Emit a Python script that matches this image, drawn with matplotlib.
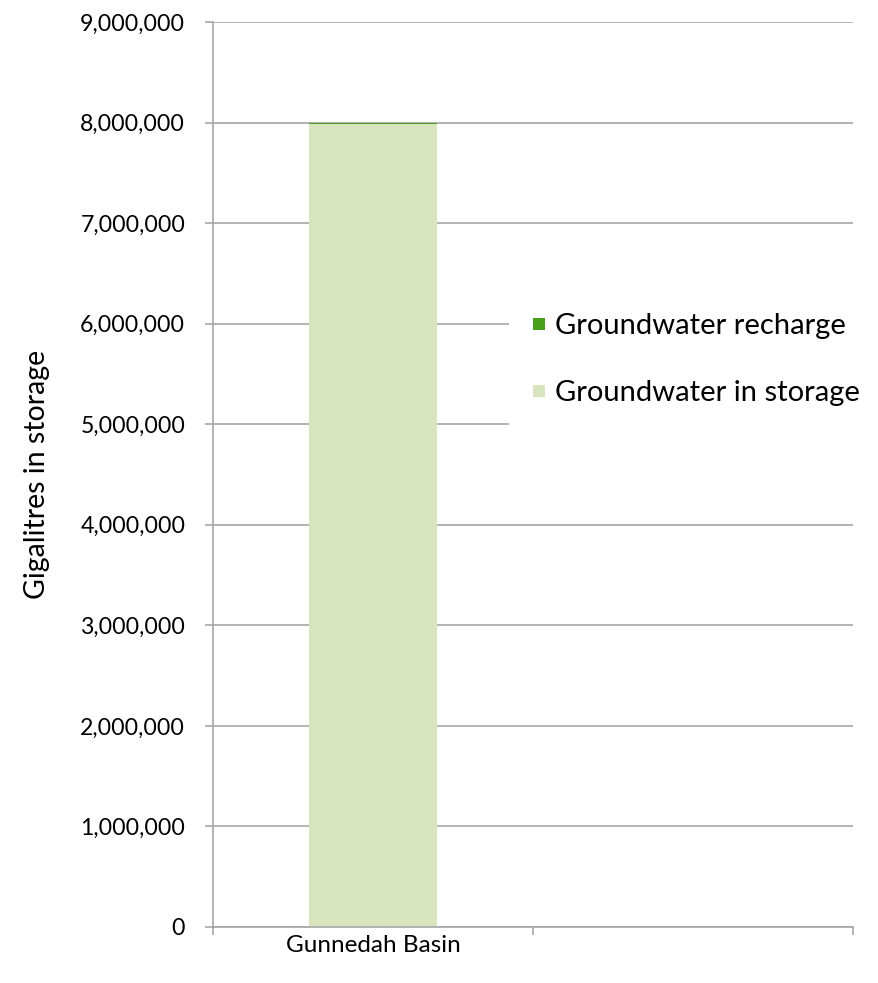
import matplotlib.pyplot as plt
from matplotlib.ticker import FuncFormatter, MultipleLocator

# Groundwater figures per basin (gigalitres)
basins = ["Gunnedah Basin", ""]
storage = [7990000, 0]
recharge = [10000, 0]

storage_color = "#D7E4BD"
recharge_color = "#4A9F1A"
grid_color = "#A6A6A6"

plt.rcParams["font.family"] = ["Lato", "DejaVu Sans"]

fig = plt.figure(figsize=(8.79, 9.83), dpi=100)
ax = fig.add_axes([0.2423, 0.0570, 0.7281, 0.9206])

x = [i + 0.5 for i in range(len(basins))]
b1 = ax.bar(x, storage, width=0.4, color=storage_color, zorder=2)
b2 = ax.bar(x, recharge, width=0.4, bottom=storage, color=recharge_color, zorder=2)

ax.set_xlim(0, len(basins))
ax.set_ylim(0, 9000000)
ax.yaxis.set_major_locator(MultipleLocator(1000000))
ax.yaxis.set_major_formatter(FuncFormatter(lambda v, p: f"{int(v):,}"))
ax.grid(axis="y", color=grid_color, linewidth=1.2, zorder=0)

# category boundaries get tick marks, labels sit in the middle of each slot
ax.set_xticks(range(len(basins) + 1))
ax.set_xticklabels([])
ax.set_xticks(x, minor=True)
ax.set_xticklabels(basins, minor=True, fontsize=17.5)
ax.tick_params(axis="x", which="minor", length=0, pad=6)
ax.tick_params(axis="x", which="major", length=6, color=grid_color, width=1.2)
ax.tick_params(axis="y", length=6, color=grid_color, width=1.2, labelsize=16.7, pad=14)

for side in ["top", "right"]:
    ax.spines[side].set_visible(False)
for side in ["left", "bottom"]:
    ax.spines[side].set_color(grid_color)
    ax.spines[side].set_linewidth(1.2)

ax.set_ylabel("Gigalitres in storage", fontsize=20.5, labelpad=22)

# square swatches: handleheight is small because the legend adds a descent term
leg = ax.legend([b2, b1], ["Groundwater recharge", "Groundwater in storage"],
                loc="upper left", bbox_to_anchor=(0.462, 0.7055), fontsize=21,
                frameon=True, framealpha=1, edgecolor="none", fancybox=False,
                handlelength=0.41, handleheight=0.26, handletextpad=0.32,
                labelspacing=1.4, borderaxespad=0, borderpad=0.85)

fig.savefig("out.png", dpi=100)
